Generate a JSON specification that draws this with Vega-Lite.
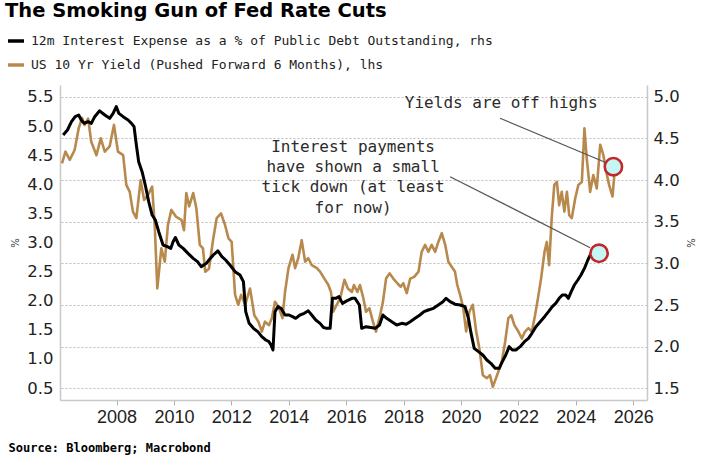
{
  "$schema": "https://vega.github.io/schema/vega-lite/v6.json",
  "width": 587,
  "height": 315,
  "autosize": {"type": "none"},
  "padding": {"left": 60, "top": 85, "right": 72, "bottom": 70},
  "background": "white",
  "title": {
    "text": "The Smoking Gun of Fed Rate Cuts",
    "anchor": "start",
    "frame": "group",
    "font": "DejaVu Sans",
    "fontSize": 19.5,
    "fontWeight": "bold",
    "color": "#000000",
    "dx": -55,
    "offset": 10
  },
  "config": {
    "view": {"stroke": null},
    "legend": {
      "orient": "none",
      "legendX": -54,
      "legendY": -54,
      "direction": "vertical",
      "symbolType": "stroke",
      "symbolStrokeWidth": 3.5,
      "symbolSize": 256,
      "labelFont": "DejaVu Sans Mono",
      "labelFontSize": 13,
      "labelColor": "#222222",
      "labelLimit": 0,
      "rowPadding": 7,
      "labelOffset": 5,
      "padding": 0
    }
  },
  "datasets": {
    "gold": [
      {"d": 2006.10, "v": 4.36}, {"d": 2006.22, "v": 4.56}, {"d": 2006.37, "v": 4.42}, {"d": 2006.54, "v": 4.59},
      {"d": 2006.68, "v": 4.96}, {"d": 2006.80, "v": 5.14}, {"d": 2006.89, "v": 5.02}, {"d": 2007.01, "v": 5.13},
      {"d": 2007.12, "v": 4.73}, {"d": 2007.30, "v": 4.50}, {"d": 2007.45, "v": 4.79}, {"d": 2007.59, "v": 4.56},
      {"d": 2007.76, "v": 4.65}, {"d": 2007.91, "v": 5.02}, {"d": 2008.05, "v": 4.56}, {"d": 2008.23, "v": 4.50},
      {"d": 2008.34, "v": 3.99}, {"d": 2008.46, "v": 3.87}, {"d": 2008.57, "v": 3.53}, {"d": 2008.69, "v": 3.42},
      {"d": 2008.84, "v": 4.07}, {"d": 2008.96, "v": 3.73}, {"d": 2009.10, "v": 3.82}, {"d": 2009.24, "v": 3.96},
      {"d": 2009.33, "v": 3.30}, {"d": 2009.42, "v": 2.21}, {"d": 2009.56, "v": 2.90}, {"d": 2009.68, "v": 2.67},
      {"d": 2009.79, "v": 3.30}, {"d": 2009.91, "v": 3.56}, {"d": 2010.08, "v": 3.44}, {"d": 2010.26, "v": 3.39},
      {"d": 2010.35, "v": 3.21}, {"d": 2010.43, "v": 3.85}, {"d": 2010.53, "v": 3.62}, {"d": 2010.67, "v": 3.85},
      {"d": 2010.78, "v": 3.59}, {"d": 2010.90, "v": 2.96}, {"d": 2011.01, "v": 2.90}, {"d": 2011.09, "v": 2.50},
      {"d": 2011.22, "v": 2.55}, {"d": 2011.37, "v": 3.07}, {"d": 2011.49, "v": 3.42}, {"d": 2011.64, "v": 3.50},
      {"d": 2011.78, "v": 3.30}, {"d": 2011.90, "v": 3.07}, {"d": 2012.01, "v": 3.01}, {"d": 2012.13, "v": 2.10},
      {"d": 2012.24, "v": 1.93}, {"d": 2012.34, "v": 2.10}, {"d": 2012.48, "v": 1.93}, {"d": 2012.65, "v": 2.21},
      {"d": 2012.80, "v": 1.75}, {"d": 2012.94, "v": 1.64}, {"d": 2013.06, "v": 1.47}, {"d": 2013.17, "v": 1.64},
      {"d": 2013.31, "v": 1.58}, {"d": 2013.41, "v": 1.70}, {"d": 2013.52, "v": 1.98}, {"d": 2013.64, "v": 1.90},
      {"d": 2013.78, "v": 1.70}, {"d": 2013.87, "v": 2.15}, {"d": 2013.99, "v": 2.56}, {"d": 2014.13, "v": 2.79},
      {"d": 2014.22, "v": 2.56}, {"d": 2014.33, "v": 2.73}, {"d": 2014.45, "v": 3.04}, {"d": 2014.57, "v": 2.67},
      {"d": 2014.68, "v": 2.73}, {"d": 2014.80, "v": 2.61}, {"d": 2014.98, "v": 2.56}, {"d": 2015.09, "v": 2.50},
      {"d": 2015.24, "v": 2.38}, {"d": 2015.38, "v": 2.27}, {"d": 2015.47, "v": 2.15}, {"d": 2015.55, "v": 1.81},
      {"d": 2015.67, "v": 1.93}, {"d": 2015.79, "v": 2.04}, {"d": 2015.94, "v": 2.36}, {"d": 2016.06, "v": 2.21},
      {"d": 2016.20, "v": 2.15}, {"d": 2016.27, "v": 2.27}, {"d": 2016.39, "v": 2.15}, {"d": 2016.48, "v": 2.27},
      {"d": 2016.60, "v": 2.04}, {"d": 2016.69, "v": 1.81}, {"d": 2016.81, "v": 1.87}, {"d": 2016.93, "v": 1.64},
      {"d": 2017.04, "v": 1.47}, {"d": 2017.16, "v": 1.70}, {"d": 2017.28, "v": 1.98}, {"d": 2017.39, "v": 2.38},
      {"d": 2017.51, "v": 2.47}, {"d": 2017.64, "v": 2.38}, {"d": 2017.78, "v": 2.30}, {"d": 2017.90, "v": 2.24},
      {"d": 2017.99, "v": 2.30}, {"d": 2018.11, "v": 2.13}, {"d": 2018.23, "v": 2.38}, {"d": 2018.37, "v": 2.41},
      {"d": 2018.52, "v": 2.50}, {"d": 2018.63, "v": 2.84}, {"d": 2018.75, "v": 2.96}, {"d": 2018.86, "v": 2.84},
      {"d": 2018.98, "v": 2.96}, {"d": 2019.10, "v": 2.84}, {"d": 2019.21, "v": 3.01}, {"d": 2019.33, "v": 3.16},
      {"d": 2019.45, "v": 2.96}, {"d": 2019.56, "v": 2.67}, {"d": 2019.68, "v": 2.58}, {"d": 2019.79, "v": 2.50},
      {"d": 2019.87, "v": 2.27}, {"d": 2019.97, "v": 2.10}, {"d": 2020.08, "v": 1.87}, {"d": 2020.18, "v": 1.47},
      {"d": 2020.29, "v": 1.81}, {"d": 2020.41, "v": 1.93}, {"d": 2020.53, "v": 1.47}, {"d": 2020.64, "v": 1.18},
      {"d": 2020.76, "v": 0.72}, {"d": 2020.90, "v": 0.67}, {"d": 2021.01, "v": 0.72}, {"d": 2021.11, "v": 0.52},
      {"d": 2021.22, "v": 0.67}, {"d": 2021.30, "v": 0.78}, {"d": 2021.42, "v": 0.95}, {"d": 2021.54, "v": 1.30},
      {"d": 2021.65, "v": 1.70}, {"d": 2021.75, "v": 1.75}, {"d": 2021.86, "v": 1.58}, {"d": 2022.00, "v": 1.47},
      {"d": 2022.12, "v": 1.35}, {"d": 2022.23, "v": 1.47}, {"d": 2022.35, "v": 1.53}, {"d": 2022.47, "v": 1.47},
      {"d": 2022.58, "v": 1.75}, {"d": 2022.68, "v": 2.04}, {"d": 2022.79, "v": 2.38}, {"d": 2022.91, "v": 2.84},
      {"d": 2022.99, "v": 3.01}, {"d": 2023.07, "v": 2.61}, {"d": 2023.16, "v": 3.42}, {"d": 2023.25, "v": 3.99},
      {"d": 2023.34, "v": 4.04}, {"d": 2023.42, "v": 3.64}, {"d": 2023.51, "v": 3.87}, {"d": 2023.60, "v": 3.53},
      {"d": 2023.69, "v": 3.87}, {"d": 2023.77, "v": 3.47}, {"d": 2023.86, "v": 3.42}, {"d": 2023.98, "v": 3.76},
      {"d": 2024.09, "v": 3.99}, {"d": 2024.21, "v": 4.04}, {"d": 2024.30, "v": 4.96}, {"d": 2024.38, "v": 4.45},
      {"d": 2024.50, "v": 3.87}, {"d": 2024.61, "v": 4.16}, {"d": 2024.73, "v": 3.93}, {"d": 2024.85, "v": 4.68},
      {"d": 2024.96, "v": 4.50}, {"d": 2025.06, "v": 4.22}, {"d": 2025.16, "v": 3.99}, {"d": 2025.28, "v": 3.79},
      {"d": 2025.35, "v": 4.22}, {"d": 2025.43, "v": 4.28}
    ],
    "black": [
      {"d": 2006.14, "v": 4.54}, {"d": 2006.29, "v": 4.60}, {"d": 2006.43, "v": 4.70}, {"d": 2006.56, "v": 4.76},
      {"d": 2006.68, "v": 4.78}, {"d": 2006.77, "v": 4.72}, {"d": 2006.87, "v": 4.68}, {"d": 2007.01, "v": 4.70},
      {"d": 2007.12, "v": 4.68}, {"d": 2007.24, "v": 4.76}, {"d": 2007.41, "v": 4.83}, {"d": 2007.59, "v": 4.78},
      {"d": 2007.76, "v": 4.74}, {"d": 2007.88, "v": 4.80}, {"d": 2007.99, "v": 4.88}, {"d": 2008.08, "v": 4.80},
      {"d": 2008.23, "v": 4.76}, {"d": 2008.40, "v": 4.72}, {"d": 2008.52, "v": 4.68}, {"d": 2008.61, "v": 4.64},
      {"d": 2008.69, "v": 4.42}, {"d": 2008.77, "v": 4.22}, {"d": 2008.89, "v": 4.10}, {"d": 2009.00, "v": 3.94},
      {"d": 2009.12, "v": 3.74}, {"d": 2009.24, "v": 3.58}, {"d": 2009.35, "v": 3.52}, {"d": 2009.47, "v": 3.38},
      {"d": 2009.62, "v": 3.22}, {"d": 2009.77, "v": 3.20}, {"d": 2009.89, "v": 3.18}, {"d": 2009.97, "v": 3.26},
      {"d": 2010.05, "v": 3.31}, {"d": 2010.17, "v": 3.22}, {"d": 2010.32, "v": 3.18}, {"d": 2010.49, "v": 3.12},
      {"d": 2010.67, "v": 3.06}, {"d": 2010.82, "v": 3.02}, {"d": 2010.95, "v": 2.96}, {"d": 2011.13, "v": 3.00},
      {"d": 2011.22, "v": 3.04}, {"d": 2011.37, "v": 3.10}, {"d": 2011.53, "v": 3.15}, {"d": 2011.67, "v": 3.08},
      {"d": 2011.80, "v": 3.04}, {"d": 2011.95, "v": 2.98}, {"d": 2012.13, "v": 2.90}, {"d": 2012.30, "v": 2.86},
      {"d": 2012.42, "v": 2.78}, {"d": 2012.50, "v": 2.42}, {"d": 2012.62, "v": 2.28}, {"d": 2012.77, "v": 2.22},
      {"d": 2012.92, "v": 2.18}, {"d": 2013.06, "v": 2.12}, {"d": 2013.20, "v": 2.08}, {"d": 2013.31, "v": 2.06},
      {"d": 2013.38, "v": 2.02}, {"d": 2013.45, "v": 1.96}, {"d": 2013.52, "v": 2.42}, {"d": 2013.62, "v": 2.48},
      {"d": 2013.73, "v": 2.46}, {"d": 2013.87, "v": 2.38}, {"d": 2014.01, "v": 2.38}, {"d": 2014.13, "v": 2.36},
      {"d": 2014.24, "v": 2.34}, {"d": 2014.39, "v": 2.38}, {"d": 2014.54, "v": 2.40}, {"d": 2014.68, "v": 2.43},
      {"d": 2014.80, "v": 2.38}, {"d": 2014.94, "v": 2.32}, {"d": 2015.09, "v": 2.28}, {"d": 2015.21, "v": 2.23},
      {"d": 2015.32, "v": 2.22}, {"d": 2015.44, "v": 2.22}, {"d": 2015.52, "v": 2.58}, {"d": 2015.64, "v": 2.58},
      {"d": 2015.75, "v": 2.60}, {"d": 2015.87, "v": 2.52}, {"d": 2016.02, "v": 2.55}, {"d": 2016.20, "v": 2.58},
      {"d": 2016.31, "v": 2.58}, {"d": 2016.46, "v": 2.50}, {"d": 2016.54, "v": 2.22}, {"d": 2016.69, "v": 2.24},
      {"d": 2016.86, "v": 2.23}, {"d": 2017.01, "v": 2.22}, {"d": 2017.16, "v": 2.26}, {"d": 2017.28, "v": 2.38},
      {"d": 2017.41, "v": 2.34}, {"d": 2017.59, "v": 2.30}, {"d": 2017.76, "v": 2.26}, {"d": 2017.94, "v": 2.28},
      {"d": 2018.09, "v": 2.27}, {"d": 2018.23, "v": 2.30}, {"d": 2018.40, "v": 2.34}, {"d": 2018.57, "v": 2.38},
      {"d": 2018.71, "v": 2.42}, {"d": 2018.86, "v": 2.44}, {"d": 2019.04, "v": 2.46}, {"d": 2019.21, "v": 2.50},
      {"d": 2019.37, "v": 2.54}, {"d": 2019.48, "v": 2.58}, {"d": 2019.62, "v": 2.54}, {"d": 2019.79, "v": 2.51},
      {"d": 2019.97, "v": 2.50}, {"d": 2020.14, "v": 2.48}, {"d": 2020.26, "v": 2.34}, {"d": 2020.34, "v": 2.18},
      {"d": 2020.46, "v": 1.98}, {"d": 2020.61, "v": 1.94}, {"d": 2020.76, "v": 1.90}, {"d": 2020.90, "v": 1.84},
      {"d": 2021.04, "v": 1.80}, {"d": 2021.19, "v": 1.74}, {"d": 2021.33, "v": 1.74}, {"d": 2021.44, "v": 1.82},
      {"d": 2021.56, "v": 1.90}, {"d": 2021.68, "v": 2.00}, {"d": 2021.79, "v": 1.96}, {"d": 2021.91, "v": 1.96},
      {"d": 2022.06, "v": 2.00}, {"d": 2022.21, "v": 2.06}, {"d": 2022.35, "v": 2.10}, {"d": 2022.47, "v": 2.16},
      {"d": 2022.61, "v": 2.24}, {"d": 2022.76, "v": 2.30}, {"d": 2022.91, "v": 2.36}, {"d": 2023.05, "v": 2.42},
      {"d": 2023.18, "v": 2.48}, {"d": 2023.30, "v": 2.52}, {"d": 2023.42, "v": 2.58}, {"d": 2023.53, "v": 2.62},
      {"d": 2023.65, "v": 2.62}, {"d": 2023.74, "v": 2.58}, {"d": 2023.84, "v": 2.66}, {"d": 2023.95, "v": 2.74},
      {"d": 2024.07, "v": 2.80}, {"d": 2024.18, "v": 2.86}, {"d": 2024.30, "v": 2.94}, {"d": 2024.42, "v": 3.04},
      {"d": 2024.53, "v": 3.12}, {"d": 2024.65, "v": 3.18}, {"d": 2024.77, "v": 3.19}, {"d": 2024.88, "v": 3.15},
      {"d": 2024.93, "v": 3.14}
    ],
    "notes": [
      {"d": 2021.40, "v": 5.39, "t": "Yields are off highs"},
      {"d": 2016.24, "v": 4.646, "t": "Interest payments"},
      {"d": 2016.24, "v": 4.302, "t": "have shown a small"},
      {"d": 2016.24, "v": 3.959, "t": "tick down (at least"},
      {"d": 2016.24, "v": 3.593, "t": "for now)"}
    ],
    "connectors": [
      {"d": 2021.36, "v": 5.134, "d2": 2025.02, "v2": 4.378},
      {"d": 2019.62, "v": 4.131, "d2": 2024.50, "v2": 2.911}
    ],
    "circles": [
      {"d": 2025.31, "v": 4.302},
      {"d": 2024.81, "v": 2.814}
    ]
  },
  "encoding": {
    "x": {
      "field": "d",
      "type": "quantitative",
      "scale": {"domain": [2006.03, 2026.48], "nice": false, "zero": false},
      "axis": {
        "values": [2008, 2010, 2012, 2014, 2016, 2018, 2020, 2022, 2024, 2026],
        "format": "d",
        "grid": false,
        "domainColor": "#c8c8c8",
        "domainWidth": 1.5,
        "tickColor": "#b0b0b0",
        "tickSize": 5,
        "labelFont": "Liberation Sans",
        "labelFontSize": 18,
        "labelColor": "#222222",
        "labelPadding": 3,
        "title": "Source: Bloomberg; Macrobond",
        "titleFont": "DejaVu Sans Mono",
        "titleFontSize": 12,
        "titleFontWeight": "bold",
        "titleColor": "#000000",
        "titleAnchor": "start",
        "titleAlign": "left",
        "titleBaseline": "middle",
        "titleX": -52,
        "titleY": 47
      }
    }
  },
  "layer": [
    {
      "data": {"name": "gold"},
      "transform": [{"calculate": "'US 10 Yr Yield (Pushed Forward 6 Months), lhs'", "as": "s"}],
      "mark": {"type": "line", "strokeWidth": 2.6, "strokeJoin": "round"},
      "encoding": {
        "y": {
          "field": "v",
          "type": "quantitative",
          "scale": {"domain": [0.294, 5.706], "nice": false, "zero": false},
          "axis": {
            "orient": "left",
            "values": [0.5, 1, 1.5, 2, 2.5, 3, 3.5, 4, 4.5, 5, 5.5],
            "format": ".1f",
            "grid": false,
            "ticks": false,
            "domainColor": "#c8c8c8",
            "domainWidth": 1.5,
            "labelFont": "DejaVu Sans",
            "labelFontSize": 16.5,
            "labelColor": "#222222",
            "labelPadding": 7,
            "title": "%",
            "titleFont": "DejaVu Sans",
            "titleFontSize": 10,
            "titleFontWeight": "normal",
            "titleColor": "#333333",
            "titlePadding": 6
          }
        },
        "color": {
          "field": "s",
          "type": "nominal",
          "scale": {
            "domain": ["12m Interest Expense as a % of Public Debt Outstanding, rhs", "US 10 Yr Yield (Pushed Forward 6 Months), lhs"],
            "range": ["#000000", "#b8894c"]
          },
          "legend": {"title": null}
        }
      }
    },
    {
      "data": {"name": "black"},
      "transform": [{"calculate": "'12m Interest Expense as a % of Public Debt Outstanding, rhs'", "as": "s"}],
      "mark": {"type": "line", "strokeWidth": 3, "strokeJoin": "round"},
      "encoding": {
        "y": {
          "field": "v",
          "type": "quantitative",
          "scale": {"domain": [1.36, 5.14], "nice": false, "zero": false},
          "axis": {
            "orient": "right",
            "values": [1.5, 2, 2.5, 3, 3.5, 4, 4.5, 5],
            "format": ".1f",
            "grid": true,
            "gridColor": "#bdbdbd",
            "gridDash": [2, 2],
            "gridWidth": 1,
            "ticks": false,
            "domainColor": "#c8c8c8",
            "domainWidth": 1.5,
            "labelFont": "DejaVu Sans",
            "labelFontSize": 16.5,
            "labelColor": "#222222",
            "labelPadding": 6,
            "title": "%",
            "titleFont": "DejaVu Sans",
            "titleFontSize": 10,
            "titleFontWeight": "normal",
            "titleColor": "#333333",
            "titlePadding": 5
          }
        },
        "color": {"field": "s", "type": "nominal"}
      }
    },
    {
      "data": {"name": "connectors"},
      "mark": {"type": "rule", "color": "#555555", "strokeWidth": 1.2},
      "encoding": {
        "y": {"field": "v", "type": "quantitative", "scale": {"domain": [0.294, 5.706], "nice": false, "zero": false}, "axis": null},
        "x2": {"field": "d2"},
        "y2": {"field": "v2"}
      }
    },
    {
      "data": {"name": "circles"},
      "mark": {"type": "point", "shape": "circle", "filled": true, "fill": "#c6f5f5", "fillOpacity": 1, "stroke": "#c0282d", "strokeWidth": 2.6, "strokeOpacity": 1, "size": 300, "opacity": 1},
      "encoding": {
        "y": {"field": "v", "type": "quantitative", "scale": {"domain": [0.294, 5.706], "nice": false, "zero": false}, "axis": null}
      }
    },
    {
      "data": {"name": "notes"},
      "mark": {"type": "text", "font": "DejaVu Sans Mono", "fontSize": 16, "color": "#2b2b2b", "align": "center", "baseline": "middle"},
      "encoding": {
        "y": {"field": "v", "type": "quantitative", "scale": {"domain": [0.294, 5.706], "nice": false, "zero": false}, "axis": null},
        "text": {"field": "t", "type": "nominal"}
      }
    }
  ],
  "resolve": {"scale": {"y": "independent"}}
}
